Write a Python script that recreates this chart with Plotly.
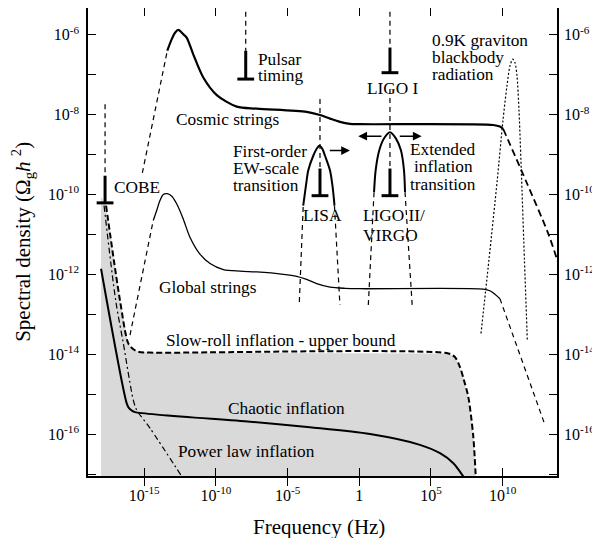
import numpy as np
import plotly.graph_objects as go

# ---------------- data (log10 of frequency in Hz, log10 of Omega_g h^2) ----------------
cosmic_rise_log_f = [-15.13, -13.39]
cosmic_rise_log_om = [-9.46, -6.40]
cosmic_log_f = [-13.39, -13.08, -12.85, -12.62, -12.27, -12.04, -11.58, -10.88, -9.94, -8.55,
                -7.15, -3.67, -2.74, -2.04, -1.35, -0.65, 0.05, 9.34, 9.81, 10.04]
cosmic_log_om = [-6.40, -6.11, -5.95, -5.88, -5.99, -6.07, -6.49, -7.07, -7.51, -7.80,
                 -7.85, -7.93, -8.01, -8.10, -8.18, -8.23, -8.24, -8.26, -8.30, -8.36]
cosmic_fall_log_f = [10.04, 11.67, 13.18, 13.86]
cosmic_fall_log_om = [-8.36, -9.70, -10.98, -11.70]

global_rise_log_f = [-15.99, -14.37]
global_rise_log_om = [-13.52, -10.65]
global_log_f = [-14.37, -14.13, -13.90, -13.67, -13.39, -13.06, -12.71, -12.29, -11.81, -11.14,
                -10.41, -9.48, -8.32, -7.15, -5.30, -4.37, -3.72, -2.97, -2.04, -1.00,
                0.05, 8.65, 9.11, 9.46, 9.81]
global_log_om = [-10.65, -10.40, -10.15, -10.00, -9.98, -10.05, -10.25, -10.60, -11.07, -11.48,
                 -11.73, -11.88, -11.92, -11.94, -12.00, -12.05, -12.12, -12.23, -12.32, -12.35,
                 -12.36, -12.37, -12.41, -12.50, -12.61]
global_fall_log_f = [9.81, 12.95]
global_fall_log_om = [-12.61, -15.77]

slowroll_log_f = [-17.66, -16.69, -16.11, -15.78, -15.41, -14.60, 6.21, 6.67, 7.02, 7.30,
                  7.60, 7.95, 8.14]
slowroll_log_om = [-10.28, -12.65, -13.73, -13.87, -13.94, -13.96, -13.98, -14.07, -14.32, -14.65,
                   -15.06, -16.06, -17.20]
shade_edge_log_f = -18.01
shade_top_log_om = -10.05
shade_floor_log_om = -17.20

chaotic_log_f = [-18.01, -16.22, -16.06, -15.87, -15.64, -7.62, -3.44, 0.75, 4.23, 5.63, 6.56, 7.42]
chaotic_log_om = [-11.86, -15.23, -15.35, -15.41, -15.45, -15.69, -15.83, -16.00, -16.27, -16.48,
                  -16.73, -17.15]

powerlaw_log_f = [-17.80, -16.99, -16.46, -15.76, -15.52, -14.60, -12.22]
powerlaw_log_om = [-10.28, -12.65, -13.72, -15.15, -15.40, -15.85, -17.15]

graviton_log_f = [8.49, 9.04, 9.62, 10.02, 10.30, 10.51, 10.70, 10.86, 11.00, 11.14, 11.35, 11.52, 11.72]
graviton_log_om = [-13.48, -11.65, -9.65, -8.15, -7.28, -6.78, -6.61, -6.70, -7.03, -7.90, -9.90, -11.65, -13.65]

lisa_bump_log_f = [-3.91, -3.86, -3.72, -3.56, -3.21, -2.98, -2.78, -2.57, -2.39, -2.04, -1.87, -1.76, -1.73]
lisa_bump_log_om = [-10.28, -10.15, -9.78, -9.40, -9.03, -8.86, -8.78, -8.86, -9.03, -9.40, -9.78, -10.15, -10.28]
lisa_leg_left_log_f = [-4.18, -3.91]
lisa_leg_left_log_om = [-12.69, -10.28]
lisa_leg_right_log_f = [-1.73, -1.35]
lisa_leg_right_log_om = [-10.28, -12.77]

ligo_bump_log_f = [1.03, 1.14, 1.39, 1.72, 2.14, 2.56, 2.91, 3.12, 3.19]
ligo_bump_log_om = [-9.94, -9.40, -8.90, -8.60, -8.44, -8.60, -8.90, -9.40, -9.94]
ligo_leg_left_log_f = [0.63, 1.03]
ligo_leg_left_log_om = [-12.77, -9.94]
ligo_leg_right_log_f = [3.19, 3.70]
ligo_leg_right_log_om = [-9.94, -12.83]

# experimental limits: position, dashed guide top, bar top, bar bottom (cap)
limit_names = ["COBE", "Pulsar timing", "LIGO I", "LISA", "LIGO II/VIRGO"]
limit_log_f = [-17.73, -7.92, 2.14, -2.74, 2.14]
limit_guide_top = [-7.74, -5.20, -5.20, -7.61, -7.36]
limit_bar_top = [-9.53, -6.40, -6.32, -9.35, -9.35]
limit_bar_bottom = [-10.21, -7.11, -6.95, -10.03, -10.03]

# arrows (tail -> head), log10 coordinates
arrow_tail_log_f = [-2.16, 1.65, 2.72]
arrow_head_log_f = [-0.65, -0.07, 4.35]
arrow_log_om = [-8.90, -8.54, -8.54]

x_tick_exp = [-15, -10, -5, 0, 5, 10]
x_tick_text = ["10<sup>-15</sup>", "10<sup>-10</sup>", "10<sup>-5</sup>", "1", "10<sup>5</sup>", "10<sup>10</sup>"]
y_tick_exp = list(range(-17, -5))
y_tick_text = ["" if e % 2 else "10<sup>%d</sup>" % e for e in y_tick_exp]

# text labels: (text, log10 f, log10 omega, anchor)
labels = [
    ("Pulsar", -7.15, -6.61, "left"),
    ("timing", -7.15, -7.03, "left"),
    ("LIGO I", 2.32, -7.34, "center"),
    ("0.9K graviton", 5.00, -6.15, "left"),
    ("blackbody", 5.00, -6.58, "left"),
    ("radiation", 5.00, -7.00, "left"),
    ("Cosmic strings", -12.85, -8.11, "left"),
    ("First-order", -8.90, -8.92, "left"),
    ("EW-scale", -8.90, -9.35, "left"),
    ("transition", -8.90, -9.77, "left"),
    ("Extended", 5.84, -8.88, "center"),
    ("inflation", 5.84, -9.30, "center"),
    ("transition", 5.84, -9.74, "center"),
    ("COBE", -17.20, -9.82, "left"),
    ("LISA", -2.60, -10.53, "center"),
    ("LIGO II/", 0.17, -10.53, "left"),
    ("VIRGO", 0.21, -11.03, "left"),
    ("Global strings", -14.02, -12.32, "left"),
    ("Slow-roll inflation - upper bound", -13.55, -13.65, "left"),
    ("Chaotic inflation", -9.25, -15.35, "left"),
    ("Power law inflation", -12.69, -16.44, "left"),
]

P = lambda v: np.power(10.0, np.asarray(v, dtype=float))
FONT = "Liberation Serif"

fig = go.Figure()

def line(xl, yl, width, dash="solid", shape="spline", yaxis="y"):
    fig.add_trace(go.Scatter(x=P(xl), y=P(yl), mode="lines", yaxis=yaxis,
                             line=dict(color="black", width=width, dash=dash, shape=shape, smoothing=0.8),
                             hoverinfo="skip"))

# shaded region below slow-roll bound
shade_x = [shade_edge_log_f, shade_edge_log_f] + slowroll_log_f
shade_y = [shade_floor_log_om, shade_top_log_om] + slowroll_log_om[:-1] + [shade_floor_log_om]
fig.add_trace(go.Scatter(x=P(shade_x), y=P(shade_y), mode="lines", fill="toself",
                         fillcolor="#d9d9d9", line=dict(width=0, color="#d9d9d9"), hoverinfo="skip"))

THIN_DASH = "5px,4px"
line(slowroll_log_f, slowroll_log_om, 2.0, "6px,3px")
line(chaotic_log_f, chaotic_log_om, 2.0)
line(powerlaw_log_f, powerlaw_log_om, 1.2, "6px,3px,2px,3px")
line(cosmic_rise_log_f, cosmic_rise_log_om, 1.2, THIN_DASH, "linear")
line(cosmic_log_f, cosmic_log_om, 2.2)
line(cosmic_fall_log_f, cosmic_fall_log_om, 1.8, "7px,4px")
line(global_rise_log_f, global_rise_log_om, 1.2, THIN_DASH, "linear")
line(global_log_f, global_log_om, 1.3)
line(global_fall_log_f, global_fall_log_om, 1.2, THIN_DASH, "linear")
line(lisa_bump_log_f, lisa_bump_log_om, 2.0)
line(lisa_leg_left_log_f, lisa_leg_left_log_om, 1.2, THIN_DASH, "linear")
line(lisa_leg_right_log_f, lisa_leg_right_log_om, 1.2, THIN_DASH, "linear")
line(ligo_bump_log_f, ligo_bump_log_om, 2.0)
line(ligo_leg_left_log_f, ligo_leg_left_log_om, 1.2, THIN_DASH, "linear")
line(ligo_leg_right_log_f, ligo_leg_right_log_om, 1.2, THIN_DASH, "linear")
# graviton blackbody on the mirrored right axis (same range)
line(graviton_log_f, graviton_log_om, 1.2, "2px,2px", "spline", yaxis="y2")

# experimental limits
for lf, gt, bt, bb in zip(limit_log_f, limit_guide_top, limit_bar_top, limit_bar_bottom):
    line([lf, lf], [gt, bt], 1.2, THIN_DASH, "linear")
    line([lf, lf], [bt, bb], 3.0, "solid", "linear")
    fig.add_trace(go.Scatter(x=P([lf]), y=P([bb]), mode="markers", hoverinfo="skip",
                             marker=dict(symbol="line-ew", size=12, color="black",
                                         line=dict(width=3, color="black"))))

annotations = []
for tl, hl, yl in zip(arrow_tail_log_f, arrow_head_log_f, arrow_log_om):
    annotations.append(dict(x=hl, y=yl, ax=tl, ay=yl, xref="x", yref="y", axref="x", ayref="y",
                            showarrow=True, arrowhead=2, arrowsize=1.1, arrowwidth=1.6,
                            arrowcolor="black", text="", standoff=0, startstandoff=0))
for txt, lx, ly, anc in labels:
    annotations.append(dict(x=lx, y=ly, xref="x", yref="y", text=txt, showarrow=False,
                            xanchor=anc, yanchor="middle", borderpad=0,
                            font=dict(family=FONT, size=17.3, color="black")))
annotations.append(dict(x=0.492, y=-0.109, xref="paper", yref="paper", text="Frequency (Hz)",
                        showarrow=False, xanchor="center", yanchor="middle",
                        font=dict(family=FONT, size=21, color="black")))
annotations.append(dict(x=-0.141, y=0.5, xref="paper", yref="paper",
                        text="Spectral density (Ω<sub>g</sub><i>h</i> <sup>2</sup>)",
                        showarrow=False, xanchor="center", yanchor="middle", textangle=-90,
                        font=dict(family=FONT, size=21, color="black")))

x_range = [-18.92, 13.79]
y_range = [-17.05, -5.33]
axis_common = dict(showgrid=False, zeroline=False, color="black", automargin=False)

# the page body adds an 8px offset, so the figure is sized 8px smaller than the window
fig.update_layout(
    width=592, height=530,
    margin=dict(l=80, r=43, t=0, b=62, pad=0),
    plot_bgcolor="white", paper_bgcolor="white",
    showlegend=False,
    font=dict(family=FONT, color="black"),
    annotations=annotations,
    xaxis=dict(type="log", range=x_range, tickmode="array",
               tickvals=P(x_tick_exp), ticktext=x_tick_text,
               ticks="inside", ticklen=8, tickwidth=1.2, tickcolor="black",
               showline=True, linecolor="black", linewidth=1.6, mirror="allticks",
               tickfont=dict(family=FONT, size=16), ticklabelstandoff=4, **axis_common),
    yaxis=dict(type="log", range=y_range, tickmode="array",
               tickvals=P(y_tick_exp), ticktext=y_tick_text,
               ticks="inside", ticklen=8, tickwidth=1.2, tickcolor="black",
               showline=True, linecolor="black", linewidth=1.6, mirror="allticks",
               tickfont=dict(family=FONT, size=16), ticklabelstandoff=4, **axis_common),
    yaxis2=dict(type="log", range=y_range, overlaying="y", side="right", tickmode="array",
                tickvals=P(y_tick_exp), ticktext=y_tick_text, ticks="", showline=False,
                tickfont=dict(family=FONT, size=16), ticklabelstandoff=6, **axis_common),
)

fig.write_html("out.html")
